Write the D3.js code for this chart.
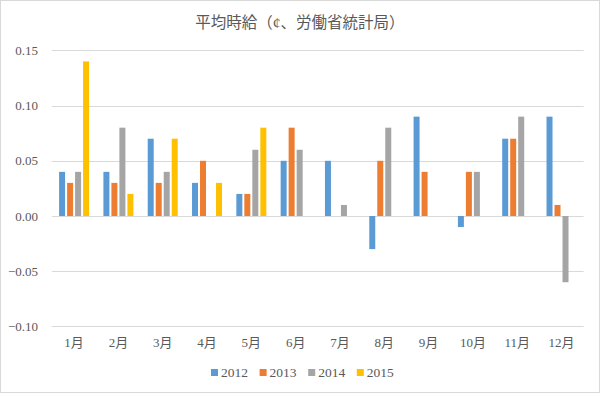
<!DOCTYPE html>
<html>
<head>
  <meta charset="utf-8">
  <script src="https://cdn.jsdelivr.net/npm/d3@7"></script>
  <style type="text/css">
    body {
      margin: 0;
      background: #fff;
    }
    svg text {
      font-family: "Liberation Serif", "Noto Sans CJK JP", serif;
      fill: #595959;
    }
    .grid line {
      stroke: #d9d9d9;
    }
  </style>
</head>
<body>
  <svg id="chart" width="605" height="395"></svg>
  <script type="text/javascript">

  const months = ['1月','2月','3月','4月','5月','6月','7月','8月','9月','10月','11月','12月'];
  const years = ['2012','2013','2014','2015'];
  const colors = ['#5b9bd5','#ed7d31','#a5a5a5','#ffc000'];
  const yTicks = [-0.10, -0.05, 0.00, 0.05, 0.10, 0.15];

  const v2012 = [0.04, 0.04, 0.07, 0.03, 0.02, 0.05, 0.05, -0.03, 0.09, -0.01, 0.07, 0.09];
  const v2013 = [0.03, 0.03, 0.03, 0.05, 0.02, 0.08, 0, 0.05, 0.04, 0.04, 0.07, 0.01];
  const v2014 = [0.04, 0.08, 0.04, 0, 0.06, 0.06, 0.01, 0.08, 0, 0.04, 0.09, -0.06];
  const v2015 = [0.14, 0.02, 0.07, 0.03, 0.08, null, null, null, null, null, null, null];
  const series = [v2012, v2013, v2014, v2015];

  const svg = d3.select('#chart');

  // outer frame
  svg.append('rect')
    .attr('x', 0.5).attr('y', 0.5)
    .attr('width', 599).attr('height', 392)
    .attr('fill', '#fff').attr('stroke', '#d9d9d9');

  svg.append('text')
    .attr('x', 300).attr('y', 28)
    .attr('text-anchor', 'middle')
    .style('font-size', '15.5px')
    .text('平均時給（¢、労働省統計局）');

  const x0 = d3.scaleBand().domain(months).range([52, 583.6])
    .paddingInner(0.323).paddingOuter(0.16);
  const x1 = d3.scaleBand().domain(years).range([0, x0.bandwidth()])
    .paddingInner(0.25);
  const y = d3.scaleLinear().domain([-0.10, 0.15]).range([326.4, 50.4]);

  // gridlines
  svg.append('g').attr('class', 'grid')
    .selectAll('line').data(yTicks).enter().append('line')
    .attr('x1', 52).attr('x2', 583.6)
    .attr('y1', (d) => Math.round(y(d)) + 0.5)
    .attr('y2', (d) => Math.round(y(d)) + 0.5);

  // y labels
  svg.append('g').selectAll('text').data(yTicks).enter().append('text')
    .attr('x', 38).attr('y', (d) => y(d) + 4.5)
    .attr('text-anchor', 'end')
    .style('font-size', '13px')
    .text((d) => d3.format('.2f')(d));

  // bars
  const groups = svg.append('g').selectAll('g').data(months).enter().append('g')
    .attr('transform', (d) => `translate(${x0(d)},0)`);
  groups.selectAll('rect')
    .data((m, i) => years.map((yr, s) => ({yr: yr, s: s, v: series[s][i]})).filter((d) => d.v))
    .enter().append('rect')
    .attr('x', (d) => x1(d.yr))
    .attr('width', x1.bandwidth())
    .attr('y', (d) => y(Math.max(0, d.v)))
    .attr('height', (d) => Math.abs(y(d.v) - y(0)))
    .attr('fill', (d) => colors[d.s]);

  // x labels
  svg.append('g').selectAll('text').data(months).enter().append('text')
    .attr('x', (d) => x0(d) + x0.bandwidth() / 2)
    .attr('y', 347)
    .attr('text-anchor', 'middle')
    .style('font-size', '13px')
    .text((d) => d);

  // legend
  const legend = svg.append('g').selectAll('g').data(years).enter().append('g')
    .attr('transform', (d, i) => `translate(${211 + i * 48.6},369)`);
  legend.append('rect')
    .attr('width', 7).attr('height', 7)
    .attr('fill', (d, i) => colors[i]);
  legend.append('text')
    .attr('x', 10).attr('y', 8)
    .style('font-size', '13.5px')
    .text((d) => d);
  </script>
</body>
</html>
